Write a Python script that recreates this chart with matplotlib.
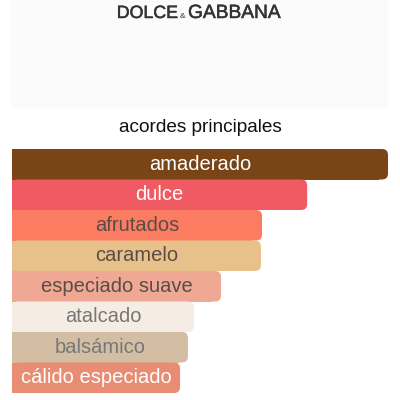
import matplotlib
matplotlib.use("Agg")
import matplotlib.pyplot as plt
import matplotlib.patheffects as pe
from matplotlib.patches import FancyBboxPatch, Rectangle

# acordes principales (ancho relativo, % del mayor)
acordes = ['amaderado', 'dulce', 'afrutados', 'caramelo', 'especiado suave',
           'atalcado', 'balsámico', 'cálido especiado']
valores = [100, 78.5, 66.5, 66.2, 55.6, 48.4, 46.8, 44.7]
colores = ['#7a4516', '#f05a62', '#fc7c62', '#e8c08a', '#eea893',
           '#f5ede3', '#d3bea4', '#e88d74']
color_texto = ['#ffffff', '#ffffff', '#5a4d48', '#5a4d48', '#5a4d48',
               '#777777', '#777777', '#ffffff']

plt.rcParams['font.family'] = ['Liberation Sans', 'DejaVu Sans']

fig = plt.figure(figsize=(4, 4), dpi=100)
fig.patch.set_facecolor('white')

# fondo del logo (caja gris muy clara)
fig.patches.append(Rectangle((10 / 400, 1 - 108 / 400), 378 / 400, 108 / 400,
                             transform=fig.transFigure, fc='#fbfbfb', ec='none'))

# logo de la marca
grueso = [pe.withStroke(linewidth=0.35, foreground='#333333')]
fig.text(178 / 400, 1 - 13.5 / 400, 'DOLCE', ha='right', va='center',
         fontsize=12.8, color='#333333', path_effects=grueso)
fig.text(183 / 400, 1 - 16 / 400, '&', ha='center', va='center',
         fontsize=6, color='#333333')
fig.text(188 / 400, 1 - 13.5 / 400, 'GABBANA', ha='left', va='center',
         fontsize=13.8, color='#333333', path_effects=grueso)

fig.text(0.5, 1 - 127 / 400, 'acordes principales', ha='center', va='center',
         fontsize=13.7, color='#111111')

# ejes de las barras: x 12..388 px, y 149..393 px
ax = fig.add_axes([12 / 400, 1 - 393 / 400, 376 / 400, 244 / 400])
ax.set_xlim(0, 100)
n = len(acordes)
ax.set_ylim(n - 0.5, -0.5)
ax.axis('off')

px_x = 100 / 376.0
px_y = n / 244.0
radio = 6 * px_x
aspecto = px_y / px_x

for i, (nombre, v, c, tc) in enumerate(zip(acordes, valores, colores, color_texto)):
    caja = FancyBboxPatch((0, i - 0.5), v, 1.0,
                          boxstyle='round,pad=0,rounding_size=%f' % radio,
                          mutation_aspect=aspecto, fc=c, ec='none')
    ax.add_patch(caja)
    ax.barh(i, v - radio * 1.5, height=1.0, left=0, color=c, linewidth=0)
    ax.text(v / 2, i, nombre, ha='center', va='center', fontsize=14.5, color=tc)

fig.savefig('out.png', dpi=100)
